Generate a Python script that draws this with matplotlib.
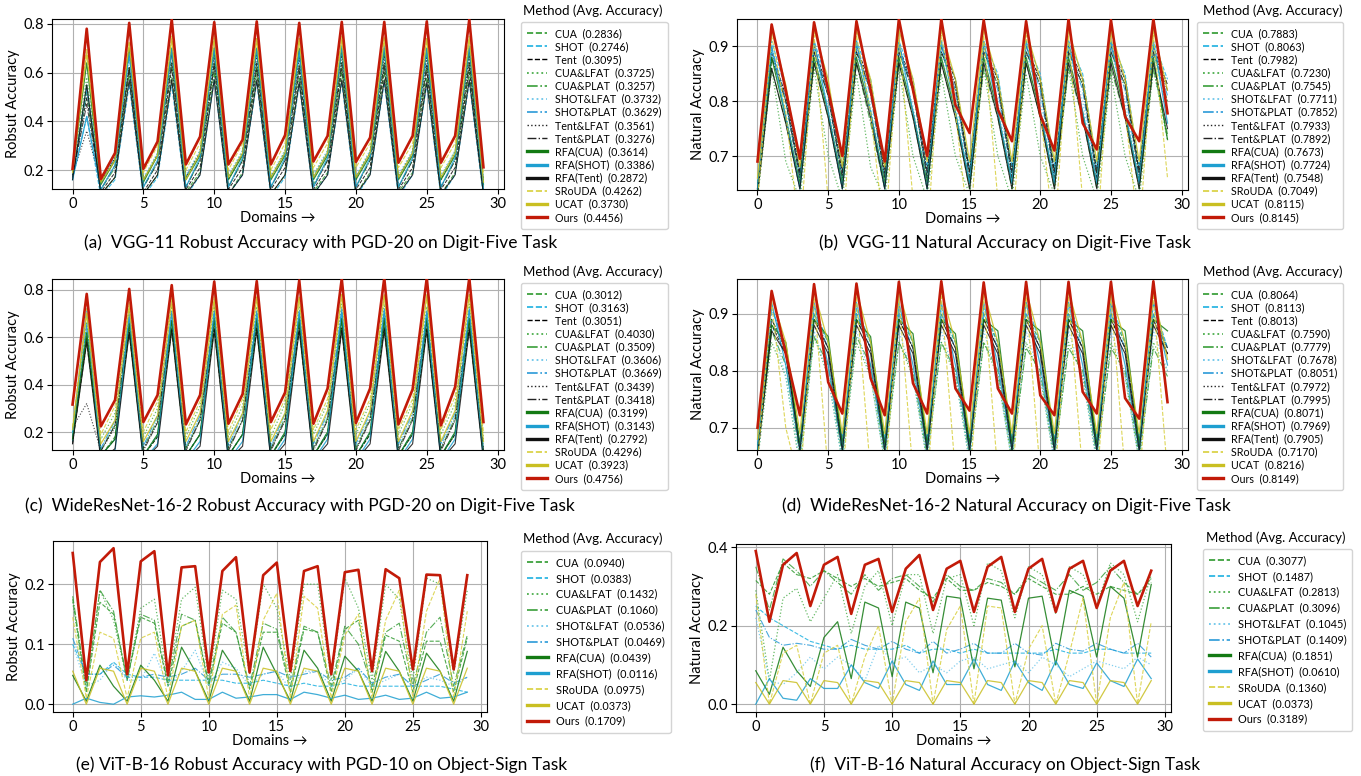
"""Six-panel accuracy-over-domains figure (Digit-Five / Object-Sign)."""
import matplotlib
matplotlib.use("Agg")
import matplotlib.pyplot as plt
from matplotlib.lines import Line2D
from matplotlib.ticker import MultipleLocator

plt.rcParams["font.family"] = ["Lato", "DejaVu Sans"]

domains = list(range(30))

methods_digit = ["CUA", "SHOT", "Tent", "CUA&LFAT", "CUA&PLAT", "SHOT&LFAT", "SHOT&PLAT",
                 "Tent&LFAT", "Tent&PLAT", "RFA(CUA)", "RFA(SHOT)", "RFA(Tent)", "SRoUDA", "UCAT", "Ours"]
methods_vit = ["CUA", "SHOT", "CUA&LFAT", "CUA&PLAT", "SHOT&LFAT", "SHOT&PLAT",
               "RFA(CUA)", "RFA(SHOT)", "SRoUDA", "UCAT", "Ours"]

avg_a = [0.2836, 0.2746, 0.3095, 0.3725, 0.3257, 0.3732, 0.3629, 0.3561, 0.3276, 0.3614, 0.3386, 0.2872, 0.4262, 0.3730, 0.4456]
avg_b = [0.7883, 0.8063, 0.7982, 0.7230, 0.7545, 0.7711, 0.7852, 0.7933, 0.7892, 0.7673, 0.7724, 0.7548, 0.7049, 0.8115, 0.8145]
avg_c = [0.3012, 0.3163, 0.3051, 0.4030, 0.3509, 0.3606, 0.3669, 0.3439, 0.3418, 0.3199, 0.3143, 0.2792, 0.4296, 0.3923, 0.4756]
avg_d = [0.8064, 0.8113, 0.8013, 0.7590, 0.7779, 0.7678, 0.8051, 0.7972, 0.7995, 0.8071, 0.7969, 0.7905, 0.7170, 0.8216, 0.8149]
avg_e = [0.0940, 0.0383, 0.1432, 0.1060, 0.0536, 0.0469, 0.0439, 0.0116, 0.0975, 0.0373, 0.1709]
avg_f = [0.3077, 0.1487, 0.2813, 0.3096, 0.1045, 0.1409, 0.1851, 0.0610, 0.1360, 0.0373, 0.3189]

# (a) VGG-11 robust accuracy
acc_a = {
    "CUA": [0.17, 0.55, 0.10, 0.17, 0.60, 0.10, 0.18, 0.58, 0.11, 0.19, 0.60, 0.10, 0.19, 0.60, 0.10, 0.18, 0.58, 0.11, 0.19, 0.60, 0.10, 0.19, 0.60, 0.11, 0.19, 0.58, 0.10, 0.19, 0.60, 0.10],
    "SHOT": [0.16, 0.42, 0.09, 0.16, 0.55, 0.09, 0.17, 0.55, 0.09, 0.18, 0.57, 0.10, 0.18, 0.56, 0.09, 0.17, 0.55, 0.10, 0.18, 0.56, 0.09, 0.18, 0.56, 0.09, 0.18, 0.55, 0.09, 0.18, 0.56, 0.09],
    "Tent": [0.17, 0.50, 0.11, 0.19, 0.62, 0.11, 0.20, 0.62, 0.12, 0.21, 0.63, 0.12, 0.21, 0.62, 0.12, 0.21, 0.61, 0.12, 0.21, 0.62, 0.12, 0.21, 0.62, 0.12, 0.21, 0.61, 0.12, 0.21, 0.62, 0.11],
    "CUA&LFAT": [0.18, 0.58, 0.15, 0.25, 0.68, 0.16, 0.27, 0.70, 0.17, 0.28, 0.70, 0.17, 0.28, 0.70, 0.17, 0.28, 0.69, 0.18, 0.28, 0.70, 0.17, 0.28, 0.70, 0.17, 0.28, 0.69, 0.17, 0.28, 0.70, 0.16],
    "CUA&PLAT": [0.17, 0.52, 0.12, 0.21, 0.62, 0.13, 0.23, 0.64, 0.13, 0.24, 0.64, 0.13, 0.24, 0.64, 0.13, 0.24, 0.63, 0.14, 0.24, 0.64, 0.13, 0.24, 0.64, 0.13, 0.24, 0.63, 0.13, 0.24, 0.64, 0.12],
    "SHOT&LFAT": [0.18, 0.55, 0.16, 0.26, 0.68, 0.17, 0.27, 0.69, 0.18, 0.28, 0.69, 0.18, 0.28, 0.69, 0.18, 0.28, 0.68, 0.18, 0.28, 0.69, 0.18, 0.28, 0.69, 0.18, 0.28, 0.68, 0.18, 0.28, 0.69, 0.17],
    "SHOT&PLAT": [0.17, 0.53, 0.15, 0.25, 0.67, 0.16, 0.26, 0.68, 0.17, 0.27, 0.68, 0.17, 0.27, 0.68, 0.17, 0.27, 0.67, 0.17, 0.27, 0.68, 0.17, 0.27, 0.68, 0.17, 0.27, 0.67, 0.17, 0.27, 0.68, 0.16],
    "Tent&LFAT": [0.18, 0.36, 0.15, 0.25, 0.62, 0.16, 0.26, 0.67, 0.17, 0.27, 0.67, 0.16, 0.27, 0.67, 0.17, 0.27, 0.66, 0.17, 0.27, 0.67, 0.17, 0.27, 0.67, 0.17, 0.27, 0.66, 0.16, 0.27, 0.67, 0.15],
    "Tent&PLAT": [0.17, 0.47, 0.12, 0.22, 0.62, 0.13, 0.23, 0.64, 0.13, 0.24, 0.64, 0.13, 0.24, 0.64, 0.13, 0.24, 0.63, 0.13, 0.24, 0.64, 0.13, 0.24, 0.64, 0.13, 0.24, 0.63, 0.13, 0.24, 0.64, 0.12],
    "RFA(CUA)": [0.20, 0.64, 0.14, 0.24, 0.70, 0.15, 0.26, 0.70, 0.16, 0.26, 0.70, 0.16, 0.26, 0.70, 0.16, 0.26, 0.70, 0.16, 0.26, 0.70, 0.16, 0.26, 0.70, 0.16, 0.26, 0.70, 0.16, 0.26, 0.70, 0.14],
    "RFA(SHOT)": [0.16, 0.42, 0.12, 0.22, 0.68, 0.13, 0.24, 0.70, 0.13, 0.25, 0.70, 0.13, 0.25, 0.70, 0.13, 0.25, 0.69, 0.13, 0.25, 0.71, 0.13, 0.25, 0.71, 0.13, 0.25, 0.70, 0.13, 0.25, 0.71, 0.12],
    "RFA(Tent)": [0.16, 0.55, 0.10, 0.17, 0.57, 0.10, 0.18, 0.57, 0.10, 0.18, 0.57, 0.10, 0.18, 0.57, 0.10, 0.18, 0.56, 0.10, 0.18, 0.57, 0.10, 0.18, 0.57, 0.10, 0.18, 0.56, 0.10, 0.18, 0.57, 0.10],
    "SRoUDA": [0.20, 0.70, 0.17, 0.27, 0.73, 0.19, 0.30, 0.75, 0.20, 0.31, 0.75, 0.20, 0.31, 0.74, 0.20, 0.31, 0.74, 0.21, 0.31, 0.75, 0.21, 0.31, 0.75, 0.21, 0.31, 0.74, 0.21, 0.31, 0.75, 0.19],
    "UCAT": [0.19, 0.68, 0.15, 0.24, 0.72, 0.16, 0.26, 0.74, 0.16, 0.27, 0.74, 0.17, 0.27, 0.74, 0.17, 0.27, 0.74, 0.17, 0.27, 0.74, 0.17, 0.27, 0.74, 0.17, 0.27, 0.74, 0.17, 0.27, 0.74, 0.15],
    "Ours": [0.205, 0.78, 0.163, 0.27, 0.804, 0.205, 0.317, 0.818, 0.223, 0.337, 0.807, 0.223, 0.324, 0.81, 0.223, 0.343, 0.804, 0.235, 0.34, 0.808, 0.233, 0.333, 0.808, 0.23, 0.34, 0.81, 0.23, 0.34, 0.818, 0.211],
}

# (b) VGG-11 natural accuracy
acc_b = {
    "CUA": [0.64, 0.88, 0.80, 0.66, 0.89, 0.81, 0.66, 0.89, 0.82, 0.66, 0.89, 0.82, 0.66, 0.89, 0.82, 0.67, 0.89, 0.83, 0.67, 0.89, 0.83, 0.67, 0.89, 0.83, 0.67, 0.89, 0.83, 0.67, 0.89, 0.80],
    "SHOT": [0.65, 0.91, 0.82, 0.67, 0.91, 0.83, 0.68, 0.91, 0.84, 0.68, 0.91, 0.84, 0.68, 0.91, 0.84, 0.68, 0.91, 0.85, 0.68, 0.91, 0.85, 0.68, 0.91, 0.85, 0.68, 0.91, 0.85, 0.68, 0.91, 0.84],
    "Tent": [0.64, 0.89, 0.81, 0.67, 0.90, 0.82, 0.67, 0.90, 0.83, 0.67, 0.90, 0.83, 0.67, 0.90, 0.84, 0.67, 0.90, 0.84, 0.67, 0.90, 0.84, 0.67, 0.90, 0.84, 0.67, 0.90, 0.84, 0.67, 0.90, 0.83],
    "CUA&LFAT": [0.62, 0.86, 0.69, 0.62, 0.86, 0.70, 0.62, 0.85, 0.68, 0.62, 0.86, 0.70, 0.62, 0.85, 0.70, 0.63, 0.86, 0.70, 0.62, 0.85, 0.70, 0.63, 0.86, 0.70, 0.62, 0.85, 0.70, 0.62, 0.86, 0.73],
    "CUA&PLAT": [0.63, 0.86, 0.76, 0.64, 0.87, 0.77, 0.64, 0.87, 0.76, 0.64, 0.87, 0.77, 0.64, 0.87, 0.77, 0.64, 0.86, 0.77, 0.64, 0.87, 0.77, 0.64, 0.86, 0.77, 0.64, 0.86, 0.77, 0.64, 0.86, 0.74],
    "SHOT&LFAT": [0.64, 0.89, 0.78, 0.65, 0.89, 0.79, 0.65, 0.89, 0.79, 0.65, 0.89, 0.79, 0.65, 0.89, 0.80, 0.65, 0.89, 0.80, 0.65, 0.89, 0.80, 0.65, 0.89, 0.80, 0.65, 0.89, 0.80, 0.65, 0.89, 0.78],
    "SHOT&PLAT": [0.64, 0.90, 0.80, 0.66, 0.90, 0.81, 0.66, 0.90, 0.81, 0.66, 0.90, 0.82, 0.66, 0.90, 0.82, 0.66, 0.90, 0.82, 0.66, 0.90, 0.82, 0.66, 0.90, 0.82, 0.66, 0.90, 0.82, 0.66, 0.90, 0.81],
    "Tent&LFAT": [0.64, 0.88, 0.81, 0.67, 0.89, 0.82, 0.67, 0.89, 0.83, 0.67, 0.89, 0.83, 0.67, 0.89, 0.83, 0.67, 0.89, 0.84, 0.67, 0.89, 0.84, 0.67, 0.89, 0.84, 0.67, 0.89, 0.84, 0.67, 0.89, 0.83],
    "Tent&PLAT": [0.64, 0.88, 0.80, 0.66, 0.89, 0.81, 0.66, 0.89, 0.82, 0.66, 0.89, 0.82, 0.66, 0.89, 0.83, 0.66, 0.89, 0.83, 0.66, 0.89, 0.83, 0.66, 0.89, 0.83, 0.66, 0.89, 0.83, 0.66, 0.89, 0.82],
    "RFA(CUA)": [0.64, 0.88, 0.77, 0.65, 0.88, 0.78, 0.65, 0.88, 0.78, 0.65, 0.88, 0.78, 0.65, 0.88, 0.78, 0.65, 0.88, 0.78, 0.65, 0.88, 0.78, 0.65, 0.88, 0.78, 0.65, 0.88, 0.78, 0.65, 0.88, 0.73],
    "RFA(SHOT)": [0.64, 0.90, 0.77, 0.64, 0.91, 0.78, 0.64, 0.91, 0.78, 0.64, 0.91, 0.78, 0.64, 0.91, 0.78, 0.65, 0.91, 0.78, 0.65, 0.91, 0.78, 0.65, 0.91, 0.78, 0.65, 0.91, 0.78, 0.65, 0.91, 0.76],
    "RFA(Tent)": [0.63, 0.86, 0.76, 0.64, 0.87, 0.77, 0.64, 0.87, 0.77, 0.64, 0.87, 0.77, 0.64, 0.87, 0.77, 0.64, 0.87, 0.77, 0.64, 0.87, 0.77, 0.64, 0.87, 0.77, 0.64, 0.87, 0.77, 0.64, 0.87, 0.75],
    "SRoUDA": [0.62, 0.92, 0.78, 0.55, 0.92, 0.62, 0.55, 0.92, 0.78, 0.55, 0.92, 0.62, 0.55, 0.92, 0.78, 0.55, 0.92, 0.62, 0.55, 0.92, 0.78, 0.55, 0.92, 0.62, 0.55, 0.92, 0.78, 0.55, 0.92, 0.66],
    "UCAT": [0.66, 0.93, 0.83, 0.68, 0.93, 0.84, 0.68, 0.93, 0.84, 0.68, 0.93, 0.84, 0.69, 0.93, 0.84, 0.69, 0.93, 0.84, 0.69, 0.93, 0.84, 0.69, 0.93, 0.84, 0.69, 0.93, 0.84, 0.69, 0.93, 0.82],
    "Ours": [0.69, 0.94, 0.82, 0.695, 0.944, 0.82, 0.70, 0.946, 0.82, 0.69, 0.95, 0.82, 0.70, 0.95, 0.793, 0.742, 0.948, 0.785, 0.727, 0.946, 0.775, 0.71, 0.95, 0.76, 0.712, 0.948, 0.772, 0.727, 0.95, 0.778],
}

# (c) WideResNet-16-2 robust accuracy
acc_c = {
    "CUA": [0.16, 0.58, 0.10, 0.18, 0.62, 0.10, 0.18, 0.63, 0.10, 0.19, 0.63, 0.10, 0.19, 0.63, 0.10, 0.19, 0.63, 0.10, 0.19, 0.64, 0.10, 0.19, 0.64, 0.10, 0.19, 0.63, 0.10, 0.19, 0.64, 0.10],
    "SHOT": [0.16, 0.66, 0.10, 0.17, 0.66, 0.10, 0.19, 0.67, 0.10, 0.19, 0.67, 0.10, 0.19, 0.67, 0.10, 0.20, 0.67, 0.10, 0.20, 0.68, 0.10, 0.20, 0.68, 0.10, 0.20, 0.67, 0.10, 0.20, 0.68, 0.10],
    "Tent": [0.15, 0.60, 0.10, 0.17, 0.63, 0.10, 0.18, 0.64, 0.10, 0.19, 0.64, 0.10, 0.19, 0.64, 0.10, 0.19, 0.64, 0.10, 0.19, 0.64, 0.10, 0.19, 0.64, 0.10, 0.19, 0.64, 0.10, 0.19, 0.64, 0.10],
    "CUA&LFAT": [0.20, 0.66, 0.17, 0.28, 0.72, 0.18, 0.30, 0.73, 0.18, 0.31, 0.73, 0.18, 0.31, 0.73, 0.18, 0.32, 0.73, 0.19, 0.32, 0.74, 0.19, 0.32, 0.74, 0.19, 0.32, 0.73, 0.19, 0.32, 0.74, 0.17],
    "CUA&PLAT": [0.18, 0.62, 0.12, 0.23, 0.67, 0.13, 0.25, 0.68, 0.13, 0.25, 0.68, 0.13, 0.25, 0.68, 0.13, 0.26, 0.68, 0.13, 0.26, 0.68, 0.13, 0.26, 0.68, 0.13, 0.26, 0.68, 0.13, 0.26, 0.68, 0.12],
    "SHOT&LFAT": [0.18, 0.64, 0.13, 0.24, 0.68, 0.14, 0.26, 0.69, 0.14, 0.26, 0.69, 0.14, 0.27, 0.69, 0.14, 0.27, 0.69, 0.14, 0.27, 0.70, 0.14, 0.27, 0.70, 0.14, 0.27, 0.69, 0.14, 0.27, 0.70, 0.13],
    "SHOT&PLAT": [0.18, 0.65, 0.13, 0.25, 0.69, 0.14, 0.27, 0.70, 0.14, 0.27, 0.70, 0.14, 0.28, 0.70, 0.14, 0.28, 0.70, 0.15, 0.28, 0.71, 0.15, 0.28, 0.71, 0.15, 0.28, 0.70, 0.15, 0.28, 0.71, 0.13],
    "Tent&LFAT": [0.22, 0.32, 0.12, 0.22, 0.62, 0.13, 0.24, 0.67, 0.13, 0.25, 0.68, 0.13, 0.25, 0.68, 0.13, 0.25, 0.68, 0.13, 0.25, 0.68, 0.13, 0.25, 0.68, 0.13, 0.25, 0.68, 0.13, 0.25, 0.68, 0.12],
    "Tent&PLAT": [0.17, 0.60, 0.12, 0.23, 0.66, 0.12, 0.24, 0.67, 0.12, 0.25, 0.67, 0.12, 0.25, 0.67, 0.12, 0.25, 0.67, 0.12, 0.25, 0.67, 0.12, 0.25, 0.67, 0.12, 0.25, 0.67, 0.12, 0.25, 0.67, 0.12],
    "RFA(CUA)": [0.17, 0.62, 0.10, 0.17, 0.66, 0.10, 0.19, 0.67, 0.10, 0.19, 0.68, 0.10, 0.19, 0.68, 0.10, 0.20, 0.68, 0.10, 0.20, 0.68, 0.10, 0.20, 0.68, 0.10, 0.20, 0.68, 0.10, 0.20, 0.68, 0.10],
    "RFA(SHOT)": [0.20, 0.72, 0.08, 0.12, 0.70, 0.08, 0.15, 0.71, 0.08, 0.16, 0.71, 0.08, 0.16, 0.71, 0.08, 0.17, 0.71, 0.08, 0.17, 0.72, 0.08, 0.17, 0.72, 0.08, 0.17, 0.71, 0.08, 0.17, 0.72, 0.08],
    "RFA(Tent)": [0.15, 0.58, 0.08, 0.13, 0.62, 0.08, 0.14, 0.63, 0.08, 0.14, 0.63, 0.08, 0.14, 0.63, 0.08, 0.15, 0.63, 0.08, 0.15, 0.63, 0.08, 0.15, 0.63, 0.08, 0.15, 0.63, 0.08, 0.15, 0.63, 0.08],
    "SRoUDA": [0.22, 0.72, 0.19, 0.31, 0.75, 0.20, 0.33, 0.77, 0.20, 0.33, 0.77, 0.20, 0.34, 0.77, 0.21, 0.34, 0.77, 0.21, 0.34, 0.78, 0.21, 0.34, 0.78, 0.21, 0.34, 0.77, 0.21, 0.35, 0.78, 0.20],
    "UCAT": [0.21, 0.70, 0.15, 0.25, 0.73, 0.16, 0.27, 0.75, 0.16, 0.28, 0.76, 0.16, 0.28, 0.77, 0.16, 0.28, 0.77, 0.16, 0.29, 0.78, 0.16, 0.29, 0.78, 0.16, 0.29, 0.78, 0.16, 0.29, 0.78, 0.16],
    "Ours": [0.316, 0.783, 0.224, 0.335, 0.804, 0.242, 0.356, 0.82, 0.232, 0.356, 0.835, 0.235, 0.36, 0.837, 0.242, 0.367, 0.84, 0.235, 0.384, 0.847, 0.238, 0.384, 0.85, 0.232, 0.38, 0.85, 0.228, 0.39, 0.85, 0.242],
}

# (d) WideResNet-16-2 natural accuracy
acc_d = {
    "CUA": [0.66, 0.89, 0.84, 0.67, 0.90, 0.85, 0.67, 0.90, 0.85, 0.67, 0.90, 0.85, 0.67, 0.90, 0.85, 0.67, 0.90, 0.85, 0.67, 0.90, 0.85, 0.67, 0.90, 0.85, 0.67, 0.90, 0.85, 0.67, 0.90, 0.84],
    "SHOT": [0.66, 0.91, 0.84, 0.67, 0.91, 0.85, 0.67, 0.91, 0.85, 0.67, 0.91, 0.85, 0.67, 0.91, 0.85, 0.67, 0.91, 0.85, 0.67, 0.92, 0.85, 0.67, 0.92, 0.85, 0.67, 0.92, 0.85, 0.67, 0.92, 0.84],
    "Tent": [0.66, 0.88, 0.83, 0.67, 0.89, 0.84, 0.67, 0.89, 0.84, 0.67, 0.89, 0.84, 0.67, 0.89, 0.84, 0.67, 0.89, 0.84, 0.67, 0.89, 0.84, 0.67, 0.89, 0.84, 0.67, 0.89, 0.84, 0.67, 0.89, 0.83],
    "CUA&LFAT": [0.64, 0.85, 0.79, 0.63, 0.86, 0.79, 0.64, 0.85, 0.79, 0.64, 0.85, 0.79, 0.64, 0.85, 0.79, 0.64, 0.85, 0.79, 0.64, 0.85, 0.79, 0.64, 0.85, 0.79, 0.64, 0.85, 0.79, 0.64, 0.85, 0.80],
    "CUA&PLAT": [0.65, 0.87, 0.81, 0.65, 0.86, 0.81, 0.65, 0.86, 0.81, 0.65, 0.85, 0.80, 0.65, 0.85, 0.80, 0.65, 0.85, 0.80, 0.65, 0.84, 0.80, 0.65, 0.84, 0.80, 0.65, 0.84, 0.80, 0.65, 0.84, 0.79],
    "SHOT&LFAT": [0.64, 0.88, 0.79, 0.64, 0.87, 0.79, 0.64, 0.87, 0.79, 0.64, 0.87, 0.79, 0.64, 0.87, 0.79, 0.64, 0.87, 0.79, 0.64, 0.87, 0.79, 0.64, 0.87, 0.79, 0.64, 0.87, 0.79, 0.64, 0.87, 0.80],
    "SHOT&PLAT": [0.67, 0.91, 0.84, 0.67, 0.90, 0.84, 0.68, 0.90, 0.84, 0.68, 0.90, 0.84, 0.68, 0.90, 0.84, 0.68, 0.90, 0.84, 0.68, 0.90, 0.84, 0.68, 0.90, 0.84, 0.68, 0.90, 0.84, 0.68, 0.90, 0.84],
    "Tent&LFAT": [0.65, 0.88, 0.84, 0.66, 0.89, 0.84, 0.66, 0.89, 0.84, 0.66, 0.89, 0.84, 0.66, 0.89, 0.84, 0.66, 0.89, 0.84, 0.66, 0.89, 0.84, 0.66, 0.89, 0.84, 0.66, 0.89, 0.84, 0.66, 0.89, 0.83],
    "Tent&PLAT": [0.66, 0.89, 0.84, 0.67, 0.89, 0.84, 0.67, 0.89, 0.84, 0.67, 0.89, 0.84, 0.67, 0.89, 0.84, 0.67, 0.89, 0.84, 0.67, 0.89, 0.84, 0.67, 0.89, 0.84, 0.67, 0.89, 0.84, 0.67, 0.89, 0.84],
    "RFA(CUA)": [0.66, 0.88, 0.85, 0.67, 0.89, 0.86, 0.67, 0.89, 0.86, 0.67, 0.89, 0.865, 0.67, 0.89, 0.865, 0.67, 0.89, 0.87, 0.67, 0.89, 0.87, 0.67, 0.89, 0.87, 0.67, 0.89, 0.87, 0.67, 0.89, 0.87],
    "RFA(SHOT)": [0.66, 0.92, 0.81, 0.66, 0.92, 0.81, 0.66, 0.92, 0.81, 0.66, 0.92, 0.81, 0.66, 0.92, 0.81, 0.66, 0.92, 0.81, 0.66, 0.92, 0.81, 0.66, 0.92, 0.81, 0.66, 0.92, 0.81, 0.66, 0.92, 0.81],
    "RFA(Tent)": [0.65, 0.87, 0.83, 0.66, 0.88, 0.83, 0.66, 0.88, 0.83, 0.66, 0.88, 0.83, 0.66, 0.88, 0.83, 0.66, 0.88, 0.83, 0.66, 0.88, 0.83, 0.66, 0.88, 0.83, 0.66, 0.88, 0.83, 0.66, 0.88, 0.83],
    "SRoUDA": [0.64, 0.92, 0.70, 0.60, 0.93, 0.62, 0.60, 0.93, 0.62, 0.60, 0.93, 0.62, 0.60, 0.93, 0.62, 0.60, 0.93, 0.62, 0.60, 0.93, 0.62, 0.60, 0.93, 0.62, 0.60, 0.93, 0.62, 0.60, 0.93, 0.62],
    "UCAT": [0.68, 0.93, 0.85, 0.69, 0.94, 0.85, 0.69, 0.94, 0.85, 0.69, 0.94, 0.85, 0.69, 0.94, 0.85, 0.69, 0.94, 0.85, 0.69, 0.94, 0.85, 0.69, 0.94, 0.85, 0.69, 0.94, 0.85, 0.69, 0.94, 0.82],
    "Ours": [0.70, 0.94, 0.83, 0.722, 0.952, 0.78, 0.725, 0.953, 0.787, 0.722, 0.956, 0.778, 0.725, 0.957, 0.769, 0.73, 0.955, 0.769, 0.725, 0.956, 0.757, 0.722, 0.956, 0.763, 0.725, 0.956, 0.752, 0.716, 0.957, 0.745],
}

# (e) ViT-B-16 robust accuracy
acc_e = {
    "CUA": [0.175, 0.02, 0.17, 0.15, 0.04, 0.145, 0.135, 0.03, 0.13, 0.14, 0.03, 0.135, 0.12, 0.025, 0.12, 0.12, 0.02, 0.125, 0.12, 0.02, 0.125, 0.14, 0.02, 0.115, 0.105, 0.02, 0.105, 0.105, 0.02, 0.11],
    "SHOT": [0.10, 0.05, 0.05, 0.07, 0.05, 0.045, 0.045, 0.04, 0.04, 0.04, 0.04, 0.04, 0.035, 0.035, 0.04, 0.035, 0.03, 0.035, 0.03, 0.03, 0.035, 0.03, 0.03, 0.03, 0.03, 0.03, 0.03, 0.03, 0.025, 0.02],
    "CUA&LFAT": [0.17, 0.02, 0.19, 0.14, 0.04, 0.16, 0.175, 0.04, 0.175, 0.195, 0.04, 0.19, 0.175, 0.05, 0.20, 0.16, 0.04, 0.20, 0.20, 0.04, 0.21, 0.16, 0.04, 0.20, 0.175, 0.04, 0.21, 0.20, 0.05, 0.19],
    "CUA&PLAT": [0.18, 0.03, 0.19, 0.155, 0.04, 0.15, 0.14, 0.035, 0.15, 0.14, 0.035, 0.145, 0.12, 0.03, 0.135, 0.125, 0.03, 0.13, 0.12, 0.03, 0.13, 0.10, 0.03, 0.12, 0.135, 0.03, 0.12, 0.145, 0.03, 0.115],
    "SHOT&LFAT": [0.10, 0.03, 0.04, 0.07, 0.04, 0.04, 0.085, 0.03, 0.055, 0.09, 0.03, 0.07, 0.06, 0.03, 0.05, 0.055, 0.025, 0.055, 0.055, 0.03, 0.04, 0.06, 0.03, 0.04, 0.05, 0.03, 0.045, 0.04, 0.03, 0.045],
    "SHOT&PLAT": [0.11, 0.05, 0.05, 0.065, 0.045, 0.045, 0.05, 0.045, 0.05, 0.06, 0.04, 0.05, 0.05, 0.045, 0.05, 0.055, 0.045, 0.05, 0.055, 0.04, 0.045, 0.06, 0.035, 0.045, 0.05, 0.03, 0.04, 0.05, 0.035, 0.045],
    "RFA(CUA)": [0.048, 0.005, 0.065, 0.03, 0.005, 0.065, 0.04, 0.005, 0.095, 0.055, 0.005, 0.09, 0.055, 0.005, 0.095, 0.05, 0.005, 0.09, 0.06, 0.005, 0.08, 0.055, 0.005, 0.088, 0.055, 0.005, 0.085, 0.055, 0.005, 0.088],
    "RFA(SHOT)": [0.0, 0.01, 0.003, 0.0, 0.012, 0.014, 0.012, 0.015, 0.02, 0.008, 0.008, 0.02, 0.01, 0.012, 0.016, 0.016, 0.008, 0.02, 0.016, 0.01, 0.015, 0.008, 0.01, 0.015, 0.008, 0.01, 0.02, 0.01, 0.012, 0.02],
    "SRoUDA": [0.145, 0.01, 0.12, 0.11, 0.01, 0.11, 0.12, 0.01, 0.13, 0.14, 0.01, 0.15, 0.165, 0.01, 0.14, 0.185, 0.01, 0.18, 0.16, 0.01, 0.115, 0.15, 0.01, 0.14, 0.19, 0.01, 0.155, 0.21, 0.01, 0.155],
    "UCAT": [0.055, 0.0, 0.06, 0.055, 0.0, 0.06, 0.055, 0.0, 0.06, 0.055, 0.0, 0.06, 0.055, 0.0, 0.06, 0.055, 0.0, 0.06, 0.055, 0.0, 0.06, 0.055, 0.0, 0.06, 0.055, 0.0, 0.06, 0.055, 0.0, 0.06],
    "Ours": [0.252, 0.04, 0.237, 0.26, 0.05, 0.238, 0.255, 0.048, 0.228, 0.23, 0.053, 0.222, 0.245, 0.053, 0.215, 0.236, 0.055, 0.222, 0.23, 0.05, 0.22, 0.224, 0.055, 0.225, 0.21, 0.058, 0.216, 0.215, 0.058, 0.215],
}

# (f) ViT-B-16 natural accuracy
acc_f = {
    "CUA": [0.315, 0.28, 0.36, 0.33, 0.32, 0.34, 0.32, 0.30, 0.32, 0.30, 0.31, 0.32, 0.29, 0.27, 0.32, 0.29, 0.29, 0.31, 0.30, 0.28, 0.32, 0.30, 0.28, 0.28, 0.30, 0.28, 0.30, 0.29, 0.28, 0.32],
    "SHOT": [0.25, 0.22, 0.20, 0.18, 0.16, 0.15, 0.14, 0.15, 0.14, 0.14, 0.14, 0.15, 0.13, 0.14, 0.14, 0.13, 0.14, 0.13, 0.13, 0.13, 0.13, 0.13, 0.14, 0.13, 0.13, 0.14, 0.14, 0.13, 0.13, 0.13],
    "CUA&LFAT": [0.29, 0.06, 0.27, 0.295, 0.21, 0.27, 0.33, 0.18, 0.30, 0.34, 0.20, 0.33, 0.33, 0.18, 0.32, 0.33, 0.20, 0.36, 0.34, 0.22, 0.35, 0.33, 0.23, 0.35, 0.33, 0.25, 0.36, 0.33, 0.21, 0.33],
    "CUA&PLAT": [0.35, 0.24, 0.37, 0.34, 0.30, 0.34, 0.31, 0.28, 0.33, 0.29, 0.32, 0.33, 0.30, 0.26, 0.33, 0.30, 0.29, 0.32, 0.31, 0.28, 0.33, 0.31, 0.29, 0.33, 0.29, 0.31, 0.35, 0.31, 0.28, 0.31],
    "SHOT&LFAT": [0.22, 0.06, 0.05, 0.08, 0.12, 0.09, 0.12, 0.10, 0.06, 0.15, 0.11, 0.12, 0.08, 0.10, 0.08, 0.11, 0.12, 0.09, 0.10, 0.11, 0.08, 0.12, 0.10, 0.07, 0.09, 0.11, 0.10, 0.09, 0.12, 0.10],
    "SHOT&PLAT": [0.24, 0.17, 0.15, 0.155, 0.15, 0.14, 0.14, 0.165, 0.15, 0.14, 0.16, 0.14, 0.13, 0.16, 0.13, 0.14, 0.155, 0.13, 0.13, 0.155, 0.13, 0.125, 0.155, 0.14, 0.135, 0.155, 0.14, 0.13, 0.155, 0.12],
    "RFA(CUA)": [0.085, 0.025, 0.145, 0.085, 0.045, 0.17, 0.21, 0.065, 0.26, 0.245, 0.07, 0.26, 0.245, 0.08, 0.275, 0.27, 0.09, 0.27, 0.265, 0.095, 0.27, 0.275, 0.10, 0.29, 0.275, 0.12, 0.30, 0.27, 0.12, 0.305],
    "RFA(SHOT)": [0.0, 0.065, 0.015, 0.01, 0.065, 0.04, 0.04, 0.10, 0.055, 0.04, 0.11, 0.05, 0.035, 0.11, 0.05, 0.05, 0.115, 0.05, 0.035, 0.11, 0.055, 0.035, 0.11, 0.05, 0.04, 0.105, 0.06, 0.045, 0.115, 0.065],
    "SRoUDA": [0.28, 0.0, 0.13, 0.15, 0.0, 0.13, 0.15, 0.0, 0.12, 0.20, 0.0, 0.21, 0.27, 0.0, 0.19, 0.25, 0.0, 0.25, 0.245, 0.0, 0.14, 0.20, 0.0, 0.13, 0.27, 0.0, 0.22, 0.31, 0.0, 0.21],
    "UCAT": [0.055, 0.0, 0.06, 0.055, 0.0, 0.06, 0.055, 0.0, 0.06, 0.055, 0.0, 0.06, 0.055, 0.0, 0.06, 0.055, 0.0, 0.06, 0.055, 0.0, 0.06, 0.055, 0.0, 0.06, 0.055, 0.0, 0.06, 0.055, 0.0, 0.06],
    "Ours": [0.39, 0.21, 0.355, 0.385, 0.25, 0.355, 0.375, 0.23, 0.355, 0.37, 0.235, 0.345, 0.38, 0.24, 0.345, 0.365, 0.235, 0.35, 0.375, 0.235, 0.345, 0.37, 0.235, 0.345, 0.365, 0.245, 0.34, 0.365, 0.25, 0.34],
}

# color, linestyle, plot linewidth, legend linewidth
STYLE = {
    "CUA": ("#2e9a2e", "--", 0.8, 1.2),
    "SHOT": ("#1cb0e0", "--", 0.8, 1.2),
    "Tent": ("#000000", "--", 0.7, 1.0),
    "CUA&LFAT": ("#4cae4c", ":", 0.9, 1.3),
    "CUA&PLAT": ("#3a9e3a", "-.", 0.8, 1.2),
    "SHOT&LFAT": ("#6cc6ea", ":", 0.9, 1.3),
    "SHOT&PLAT": ("#2a9ad8", "-.", 0.8, 1.2),
    "Tent&LFAT": ("#222222", ":", 0.8, 1.0),
    "Tent&PLAT": ("#222222", "-.", 0.7, 1.0),
    "RFA(CUA)": ("#137a13", "-", 0.9, 2.4),
    "RFA(SHOT)": ("#1e9fd0", "-", 0.9, 2.4),
    "RFA(Tent)": ("#111111", "-", 0.8, 2.4),
    "SRoUDA": ("#d8cf3c", "--", 0.8, 1.2),
    "UCAT": ("#c9bf22", "-", 0.9, 2.4),
    "Ours": ("#c21a08", "-", 1.9, 2.4),
}

W, H = 1361, 776
fig = plt.figure(figsize=(W / 100, H / 100), dpi=100)


def rect(l, t, r, b):
    return [l / W, 1 - b / H, (r - l) / W, (b - t) / H]


def panel(box, acc, methods, avgs, ylim, ystep, ylabel, caption, cap_x, cap_y,
          leg_x, leg_y, title_x, title_y, leg_fs, spacing):
    ax = fig.add_axes(rect(*box))
    for name in methods:
        c, ls, lw, _ = STYLE[name]
        ax.plot(domains, acc[name], color=c, linestyle=ls, linewidth=lw,
                alpha=1.0 if name == "Ours" else 0.85, zorder=3 if name == "Ours" else 2)
    ax.set_ylim(*ylim)
    ax.xaxis.set_major_locator(MultipleLocator(5))
    ax.yaxis.set_major_locator(MultipleLocator(ystep))
    ax.grid(True, color="#b0b0b0", linewidth=0.8)
    ax.set_axisbelow(True)
    ax.tick_params(labelsize=10.5, length=3.5, pad=2)
    ax.set_xlabel("Domains \u2192", fontsize=10.5, labelpad=0)
    ax.set_ylabel(ylabel, fontsize=10.5, labelpad=3)
    handles = [Line2D([], [], color=STYLE[n][0], linestyle=STYLE[n][1], linewidth=STYLE[n][3])
               for n in methods]
    labels = ["%s  (%.4f)" % (n, a) for n, a in zip(methods, avgs)]
    ax.legend(handles, labels, loc="upper left", bbox_to_anchor=(leg_x / W, 1 - leg_y / H),
              bbox_transform=fig.transFigure, fontsize=leg_fs, labelspacing=spacing,
              handlelength=1.9, handletextpad=0.75, borderpad=0.55, borderaxespad=0,
              fancybox=True, framealpha=1, edgecolor="#d4d4d4")
    fig.text(title_x / W, 1 - title_y / H, "Method (Avg. Accuracy)", ha="center", va="center",
             fontsize=9.5)
    fig.text(cap_x / W, 1 - cap_y / H, caption, ha="center", va="center", fontsize=12.5)
    return ax


panel((52, 19, 504, 189), acc_a, methods_digit, avg_a, (0.122, 0.82), 0.2, "Robsut Accuracy",
      "(a)  VGG-11 Robust Accuracy with PGD-20 on Digit-Five Task", 321, 243,
      521, 22, 593, 11, 7.7, 0.2)
panel((737, 19, 1188, 190), acc_b, methods_digit, avg_b, (0.638, 0.95), 0.1, "Natural Accuracy",
      "(b)  VGG-11 Natural Accuracy on Digit-Five Task", 1005, 243,
      1197, 22, 1273, 11, 7.7, 0.2)
panel((52, 279, 504, 450), acc_c, methods_digit, avg_c, (0.124, 0.846), 0.2, "Robsut Accuracy",
      "(c)  WideResNet-16-2 Robust Accuracy with PGD-20 on Digit-Five Task", 300, 506,
      521, 283, 593, 272, 7.7, 0.2)
panel((737, 279, 1188, 450), acc_d, methods_digit, avg_d, (0.661, 0.961), 0.1, "Natural Accuracy",
      "(d)  WideResNet-16-2 Natural Accuracy on Digit-Five Task", 1006, 506,
      1197, 283, 1273, 272, 7.7, 0.2)
panel((53, 541, 487, 712), acc_e, methods_vit, avg_e, (-0.013, 0.272), 0.1, "Robsut Accuracy",
      "(e) ViT-B-16 Robust Accuracy with PGD-10 on Object-Sign Task", 322, 765,
      521, 551, 593, 539, 7.8, 0.45)
panel((736, 544, 1171, 712), acc_f, methods_vit, avg_f, (-0.02, 0.408), 0.2, "Natural Accuracy",
      "(f)  ViT-B-16 Natural Accuracy on Object-Sign Task", 1005, 765,
      1203, 549, 1276, 538, 7.8, 0.45)

fig.savefig("out.png", dpi=100)
